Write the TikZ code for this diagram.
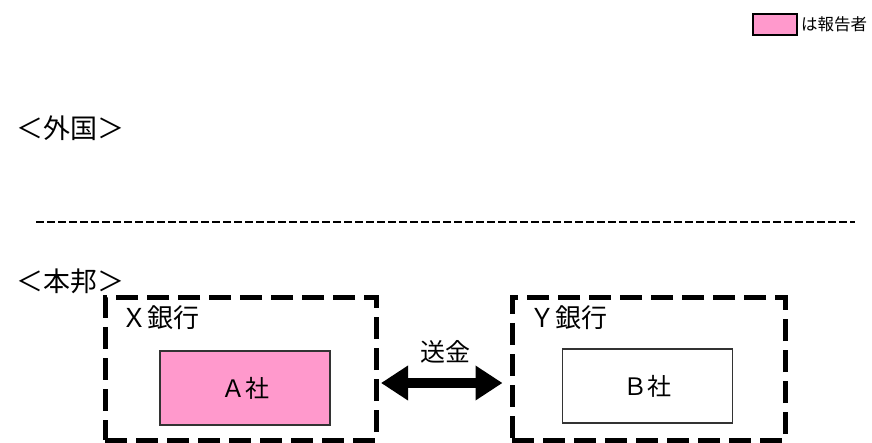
\documentclass[tikz,border=0pt]{standalone}
\usepackage{fontspec}
\setmainfont{Noto Sans CJK JP}
\usetikzlibrary{arrows.meta}
\definecolor{reppink}{HTML}{FF99CC}
\tikzset{
  bankbox/.style={draw, line width=5pt, dash pattern=on 22pt off 9pt, minimum height=142pt, inner sep=0pt},
  firmbox/.style={draw=black!80, line width=1.2pt, minimum width=170pt, minimum height=74pt, font=\fontsize{24}{24}\selectfont},
  banklabel/.style={anchor=west, inner sep=0pt, font=\fontsize{26}{26}\selectfont},
  arealabel/.style={anchor=west, inner sep=0pt, font=\fontsize{27}{27}\selectfont},
  bigtip/.tip={Triangle[length=27pt,width=33pt]}
}
\begin{document}
\begin{tikzpicture}[x=1pt,y=-1pt]
    \useasboundingbox (0,0) rectangle (872,443);

    % Legend
    \node[draw, line width=2pt, fill=reppink, minimum width=44pt, minimum height=21pt, inner sep=0pt] (legbox) at (775,24.5) {};
    \node[anchor=west, inner sep=0pt, font=\fontsize{16.5}{16.5}\selectfont] (legtext) at ([xshift=3pt]legbox.east) {は報告者};

    % Area labels
    \node[arealabel] (abroad) at (16,128) {＜外国＞};
    \node[arealabel] (home) at (16,281) {＜本邦＞};

    % Border between the areas
    \draw[line width=2.5pt, dash pattern=on 8pt off 3pt] (36,222) -- (855,222);

    % Banks
    \node[bankbox, minimum width=271pt] (xbank) at (240.5,369) {};
    \node[bankbox, minimum width=273pt] (ybank) at (648.5,369) {};
    \node[banklabel] (xname) at (121,318) {Ｘ銀行};
    \node[banklabel] (yname) at (529,318) {Ｙ銀行};

    % Firms
    \node[firmbox, fill=reppink] (firma) at (245,388) {Ａ社};
    \node[firmbox, fill=white] (firmb) at (647.5,386) {Ｂ社};

    % Remittance
    \draw[line width=10pt, bigtip-bigtip, shorten <=2.5pt, shorten >=7pt] ([yshift=-14pt]xbank.east) -- ([yshift=-14pt]ybank.west);
    \node[font=\fontsize{25}{25}\selectfont, inner sep=0pt] (remit) at (445,352) {送金};

\end{tikzpicture}
\end{document}
